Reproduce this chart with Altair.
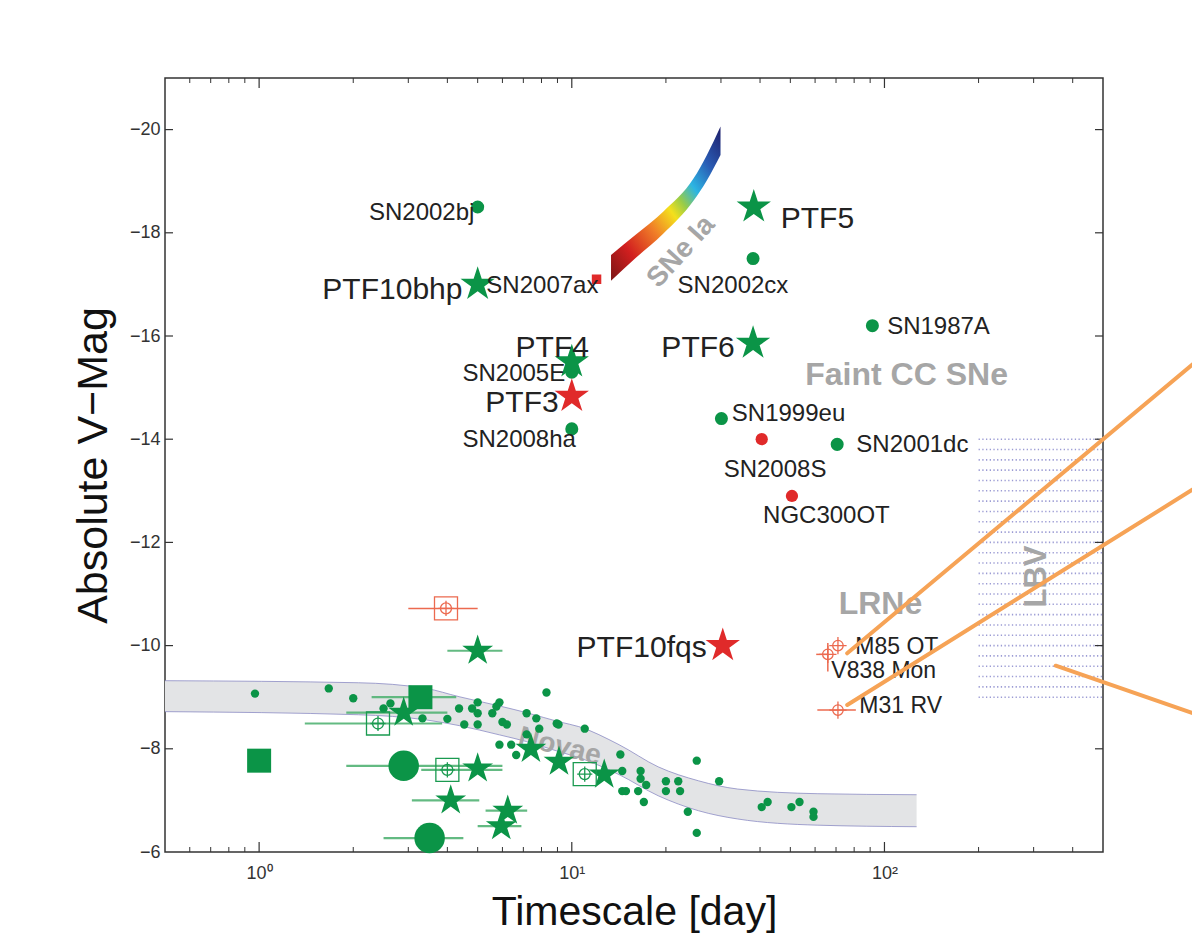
import altair as alt
import pandas as pd

FONT = "Liberation Sans"
GREEN = "#0b9447"
GREEN_ERR = "#52b274"
RED = "#e02a2a"
SALMON = "#ec6a4f"
GRAY_TXT = "#a6a6a6"
DARK = "#222222"
ORANGE = "#f6a356"

W, H = 938, 774

# ---------------- axis ticks ----------------
x_major_ticks = [1, 10, 100]
x_minor_ticks = [0.6, 0.7, 0.8, 0.9, 2, 3, 4, 5, 6, 7, 8, 9,
                 20, 30, 40, 50, 60, 70, 80, 90, 200, 300, 400]
y_major_ticks = [-20, -18, -16, -14, -12, -10, -8]
y_label_values = [-20, -18, -16, -14, -12, -10, -8, -6]

# ---------------- labelled events ----------------
ev_name = ["SN2002bj", "PTF10bhp", "SN2007ax", "PTF5", "SN2002cx", "SN1987A",
           "PTF6", "SN2005E", "PTF4", "PTF3", "SN2008ha", "SN1999eu", "SN2008S",
           "SN2001dc", "NGC300OT", "PTF10fqs"]
ev_x = [5.0, 5.0, 12.0, 38.2, 38.0, 91.5, 38.0, 10.0, 10.0, 10.0, 10.0, 30.1,
        40.5, 70.6, 50.6, 30.4]
ev_y = [-18.5, -17.0, -17.1, -18.5, -17.5, -16.2, -15.86, -15.3, -15.5, -14.83,
        -14.2, -14.4, -14.0, -13.9, -12.9, -10.0]
ev_kind = ["circle_green", "star_green", "square_red", "star_green", "circle_green",
           "circle_green", "star_green", "circle_green", "star_green", "star_red",
           "circle_green", "circle_green", "circle_red", "circle_green", "circle_red",
           "star_red"]

# ---------------- novae ----------------
nova_dot_x = [0.97, 1.67, 2.0, 2.63, 2.5, 3.33, 4.0, 4.36, 4.53, 4.8, 5.0, 5.0, 5.0,
              5.57, 5.87, 5.74, 6.0, 6.2, 7.17, 7.7, 8.3, 5.87, 6.4, 6.64, 7.17,
              8.95, 7.87, 9.07, 11.0, 14.3, 14.5, 16.6, 16.6, 17.3, 14.5, 14.9,
              16.3, 17.0, 20.0, 21.9, 20.0, 22.2, 23.5, 25.1, 25.1, 29.6, 40.5,
              42.3, 50.4, 53.5, 59.3, 59.3]
nova_dot_y = [-9.07, -9.17, -8.98, -8.88, -8.78, -8.59, -8.58, -8.78, -8.47, -8.78,
              -8.9, -8.47, -8.69, -8.69, -8.9, -8.82, -8.52, -8.47, -8.69, -8.59,
              -9.09, -8.08, -8.08, -7.88, -8.28, -8.49, -8.39, -8.47, -8.39, -7.89,
              -7.57, -7.57, -7.42, -7.3, -7.18, -7.18, -7.18, -6.97, -7.37, -7.37,
              -7.18, -7.18, -6.78, -7.77, -6.37, -7.37, -6.87, -6.97, -6.87, -6.97,
              -6.78, -6.68]
nova_star_x = [5.0, 2.9, 5.0, 4.1, 6.24, 5.95, 7.4, 9.1, 12.7]
nova_star_y = [-9.9, -8.7, -7.62, -7.0, -6.8, -6.5, -8.0, -7.75, -7.5]
nova_bigcircle_x = [2.9, 3.51]
nova_bigcircle_y = [-7.67, -6.27]
nova_bigsquare_x = [1.0, 3.28]
nova_bigsquare_y = [-7.77, -9.0]
nova_opensq_x = [2.4, 4.0, 11.0]
nova_opensq_y = [-8.49, -7.59, -7.51]
red_opensq_x = [3.96]
red_opensq_y = [-10.72]
lrn_x = [71.0, 65.9, 71.0]
lrn_y = [-10.0, -9.83, -8.75]

# error bars (horizontal)
gerr_lo = [2.29, 1.9, 2.5, 1.4, 3.3, 4.0, 1.9, 3.08, 5.3, 5.0]
gerr_hi = [4.27, 6.0, 4.5, 3.85, 6.0, 6.0, 4.0, 5.06, 7.2, 6.9]
gerr_y = [-9.0, -7.67, -6.27, -8.49, -7.59, -9.9, -8.7, -7.0, -6.8, -6.5]
rerr_lo = [3.0, 61.0, 60.5]
rerr_hi = [5.0, 81.0, 66.0]
rerr_y = [-10.72, -8.75, -9.83]
rverr_x = [65.9]
rverr_lo = [-10.05]
rverr_hi = [-9.5]

# ---------------- nova (MMRD) band ----------------
band_x = [0.5, 2.08, 3.42, 4.36, 5.87, 7.17, 9.15, 10.53, 14.16, 18.90, 25.42,
          33.93, 60.9, 126.7]
band_top = [-9.32, -9.28, -9.17, -9.01, -8.83, -8.70, -8.52, -8.43, -8.08, -7.65,
            -7.38, -7.22, -7.13, -7.11]
band_bot = [-8.72, -8.66, -8.56, -8.45, -8.27, -8.14, -7.94, -7.83, -7.50, -7.09,
            -6.80, -6.64, -6.52, -6.49]

# ---------------- SNe Ia width-luminosity band ----------------
ia_x = [13.35, 16.0, 19.6, 24.5, 27.0, 29.9]
ia_bright = [-17.57, -17.96, -18.41, -19.05, -19.50, -20.06]
ia_faint = [-17.07, -17.51, -17.98, -18.62, -19.01, -19.51]

# ---------------- LBV region ----------------
lbv_x = [200, 500]
lbv_rows = [-14.0, -13.8, -13.6, -13.4, -13.2, -13.0, -12.8, -12.6, -12.4, -12.2,
            -12.0, -11.8, -11.6, -11.4, -11.2, -11.0, -10.8, -10.6, -10.4, -10.2,
            -10.0, -9.8, -9.6, -9.4, -9.2, -9.0]

# ---------------- labels ----------------
left_lab = ["SN2007ax", "PTF5", "SN2002cx", "SN1987A", "PTF4", "SN2005E", "PTF3",
            "SN2008ha", "SN1999eu", "SN2008S", "SN2001dc", "NGC300OT", "M85 OT",
            "V838 Mon", "M31 RV"]
left_x = [5.33, 46.6, 21.8, 102, 6.61, 4.47, 5.29, 4.47, 32.5, 30.6, 81.3, 40.9,
          80.7, 67.6, 83.1]
left_y = [-16.97, -18.27, -16.97, -16.17, -15.77, -15.26, -14.70, -13.98, -14.49,
          -13.40, -13.88, -12.52, -9.97, -9.51, -8.82]
left_fs = [24, 30, 24, 24, 30, 24, 30, 24, 24, 24, 24, 24, 23, 23, 23]
right_lab = ["SN2002bj", "PTF10bhp", "PTF6", "PTF10fqs"]
right_x = [4.88, 4.47, 33.2, 27.0]
right_y = [-18.39, -16.89, -15.77, -9.96]
right_fs = [24, 30, 30, 30]
gray_lab = ["SNe Ia", "Faint CC SNe", "LRNe", "LBV", "Novae"]
gray_x = [22.4, 117.7, 97.1, 308, 9.15]
gray_y = [-17.63, -15.24, -10.8, -11.34, -8.04]
gray_fs = [28, 32, 32, 31, 28]
gray_ang = [312, 0, 0, 270, 14]

# orange call-out lines
ol_x1 = [76, 76, 353]
ol_y1 = [-9.85, -8.85, -9.61]
ol_x2 = [1045, 1045, 1045]
ol_y2 = [-15.62, -13.15, -8.62]

# ---------------- styles ----------------
STAR = ("M0,-1L0.2245,-0.309L0.9511,-0.309L0.3633,0.118L0.5878,0.809L0,0.382"
        "L-0.5878,0.809L-0.3633,0.118L-0.9511,-0.309L-0.2245,-0.309Z")
CROSS = "M-1,0L1,0M0,-1L0,1"
kind_style = {
    "circle_green": ("circle", 170, GREEN),
    "circle_red": ("circle", 150, RED),
    "square_red": ("square", 90, RED),
    "star_green": (STAR, 1300, GREEN),
    "star_red": (STAR, 1300, RED),
}

xs = alt.Scale(type="log", domain=[0.5, 500], nice=False)
ys = alt.Scale(type="linear", domain=[-21, -6], reverse=True, nice=False, zero=False)

x_axis = alt.Axis(
    values=x_major_ticks,
    labelExpr="datum.value == 1 ? '10\u2070' : (datum.value == 10 ? '10\u00b9' : '10\u00b2')",
    ticks=False, domain=False, grid=False, labelFlush=False,
    labelFont=FONT, labelFontSize=18, labelColor="#333", labelPadding=12,
    title="Timescale [day]", titleFont=FONT, titleFontSize=41,
    titleFontWeight="normal", titleColor="#111", titleY=60, titleBaseline="middle",
)
y_axis = alt.Axis(
    values=y_label_values, ticks=False, domain=False, grid=False, labelFlush=False,
    labelFont=FONT, labelFontSize=18, labelColor="#333", labelPadding=5,
    title="Absolute V\u2212Mag", titleFont=FONT, titleFontSize=43,
    titleFontWeight="normal", titleColor="#111", titleX=-72, titleY=H / 2,
    titleAngle=270, titleBaseline="middle", titleAlign="center",
)


def X(f):
    return alt.X(f, type="quantitative", scale=xs, axis=x_axis)


def Y(f):
    return alt.Y(f, type="quantitative", scale=ys, axis=y_axis)


# ---------------- data frames ----------------
band_df = pd.DataFrame({"x": band_x, "top": band_top, "bot": band_bot})
ia_df = pd.DataFrame({"x": ia_x, "b": ia_bright, "f": ia_faint})
lbv_df = pd.DataFrame({"m": lbv_rows, "x1": lbv_x[0], "x2": lbv_x[1]})

filled_rows = []
for n, x, y, k in zip(ev_name, ev_x, ev_y, ev_kind):
    s, sz, c = kind_style[k]
    filled_rows.append(dict(x=x, y=y, shape=s, size=sz, color=c))
for x, y in zip(nova_dot_x, nova_dot_y):
    filled_rows.append(dict(x=x, y=y, shape="circle", size=70, color=GREEN))
for x, y in zip(nova_star_x, nova_star_y):
    filled_rows.append(dict(x=x, y=y, shape=STAR, size=1050, color=GREEN))
for x, y in zip(nova_bigcircle_x, nova_bigcircle_y):
    filled_rows.append(dict(x=x, y=y, shape="circle", size=930, color=GREEN))
for x, y in zip(nova_bigsquare_x, nova_bigsquare_y):
    filled_rows.append(dict(x=x, y=y, shape="square", size=576, color=GREEN))
filled_df = pd.DataFrame(filled_rows)

open_rows = []
for xl, yl, col in [(nova_opensq_x, nova_opensq_y, "#1a9a50"),
                    (red_opensq_x, red_opensq_y, SALMON)]:
    for x, y in zip(xl, yl):
        open_rows.append(dict(x=x, y=y, shape="square", size=529, color=col))
        open_rows.append(dict(x=x, y=y, shape="circle", size=120, color=col))
        open_rows.append(dict(x=x, y=y, shape=CROSS, size=230, color=col))
for x, y in zip(lrn_x, lrn_y):
    open_rows.append(dict(x=x, y=y, shape="circle", size=110, color=SALMON))
    open_rows.append(dict(x=x, y=y, shape=CROSS, size=300, color=SALMON))
open_df = pd.DataFrame(open_rows)

gerr_df = pd.DataFrame({"lo": gerr_lo, "hi": gerr_hi, "y": gerr_y})
rerr_df = pd.DataFrame({"lo": rerr_lo, "hi": rerr_hi, "y": rerr_y})
rverr_df = pd.DataFrame({"x": rverr_x, "lo": rverr_lo, "hi": rverr_hi})

left_df = pd.DataFrame({"t": left_lab, "x": left_x, "y": left_y, "fs": left_fs})
right_df = pd.DataFrame({"t": right_lab, "x": right_x, "y": right_y, "fs": right_fs})
gray_df = pd.DataFrame({"t": gray_lab, "x": gray_x, "y": gray_y, "fs": gray_fs,
                        "a": gray_ang})
ol_df = pd.DataFrame({"x1": ol_x1, "y1": ol_y1, "x2": ol_x2, "y2": ol_y2})

xmaj_df = pd.DataFrame({"x": x_major_ticks})
xmin_df = pd.DataFrame({"x": x_minor_ticks})
ymaj_df = pd.DataFrame({"y": y_major_ticks})

# ---------------- layers ----------------
band = alt.Chart(band_df).mark_area(color="#e3e4e6", interpolate="monotone").encode(
    x=X("x"), y=Y("top"), y2="bot")
band_top_l = alt.Chart(band_df).mark_line(color="#8c8cc4", strokeWidth=1,
                                          opacity=0.8, interpolate="monotone").encode(
    x=X("x"), y=Y("top"))
band_bot_l = alt.Chart(band_df).mark_line(color="#8c8cc4", strokeWidth=1,
                                          opacity=0.8, interpolate="monotone").encode(
    x=X("x"), y=Y("bot"))

lbv = alt.Chart(lbv_df).mark_rule(color="#9c9cd4", strokeWidth=1.6,
                                  strokeDash=[1.3, 2.4]).encode(
    x=X("x1"), x2="x2", y=Y("m"))

gradient = {
    "gradient": "linear", "x1": 0, "y1": 1, "x2": 1, "y2": 0,
    "stops": [
        {"offset": 0.0, "color": "#7a1515"},
        {"offset": 0.18, "color": "#d21f1f"},
        {"offset": 0.36, "color": "#f07f28"},
        {"offset": 0.5, "color": "#f4e01c"},
        {"offset": 0.58, "color": "#98cc48"},
        {"offset": 0.68, "color": "#2cb5e3"},
        {"offset": 0.82, "color": "#2a5cb4"},
        {"offset": 1.0, "color": "#1e1e6a"},
    ],
}
ia = alt.Chart(ia_df).mark_area(fill=gradient, interpolate="monotone").encode(
    x=X("x"), y=Y("b"), y2="f")

gray_txt = alt.Chart(gray_df).mark_text(font=FONT, fontWeight="bold", color=GRAY_TXT,
                                        align="center", baseline="middle").encode(
    x=X("x"), y=Y("y"), text="t:N",
    size=alt.Size("fs:Q", scale=None), angle=alt.Angle("a:Q", scale=None))

gerr = alt.Chart(gerr_df).mark_rule(color=GREEN_ERR, strokeWidth=2.2, opacity=0.9).encode(
    x=X("lo"), x2="hi", y=Y("y"))
rerr = alt.Chart(rerr_df).mark_rule(color=SALMON, strokeWidth=1.5).encode(
    x=X("lo"), x2="hi", y=Y("y"))
rverr = alt.Chart(rverr_df).mark_rule(color=SALMON, strokeWidth=1.5).encode(
    x=X("x"), y=Y("lo"), y2="hi")

filled = alt.Chart(filled_df).mark_point(filled=True, opacity=1, strokeWidth=0).encode(
    x=X("x"), y=Y("y"),
    shape=alt.Shape("shape:N", scale=None),
    size=alt.Size("size:Q", scale=None),
    color=alt.Color("color:N", scale=None))
opened = alt.Chart(open_df).mark_point(filled=False, opacity=1, strokeWidth=1.3).encode(
    x=X("x"), y=Y("y"),
    shape=alt.Shape("shape:N", scale=None),
    size=alt.Size("size:Q", scale=None),
    color=alt.Color("color:N", scale=None))

ltxt = alt.Chart(left_df).mark_text(font=FONT, color=DARK, align="left",
                                    baseline="middle").encode(
    x=X("x"), y=Y("y"), text="t:N", size=alt.Size("fs:Q", scale=None))
rtxt = alt.Chart(right_df).mark_text(font=FONT, color=DARK, align="right",
                                     baseline="middle").encode(
    x=X("x"), y=Y("y"), text="t:N", size=alt.Size("fs:Q", scale=None))

TICK = "#333333"
xmaj_b = alt.Chart(xmaj_df).mark_rule(color=TICK, strokeWidth=1.2).encode(
    x=X("x"), y=alt.value(H), y2=alt.value(H - 10))
xmaj_t = alt.Chart(xmaj_df).mark_rule(color=TICK, strokeWidth=1.2).encode(
    x=X("x"), y=alt.value(0), y2=alt.value(10))
xmin_b = alt.Chart(xmin_df).mark_rule(color=TICK, strokeWidth=1).encode(
    x=X("x"), y=alt.value(H), y2=alt.value(H - 5))
xmin_t = alt.Chart(xmin_df).mark_rule(color=TICK, strokeWidth=1).encode(
    x=X("x"), y=alt.value(0), y2=alt.value(5))
ymaj_l = alt.Chart(ymaj_df).mark_rule(color=TICK, strokeWidth=1.2).encode(
    y=Y("y"), x=alt.value(0), x2=alt.value(8))
ymaj_r = alt.Chart(ymaj_df).mark_rule(color=TICK, strokeWidth=1.2).encode(
    y=Y("y"), x=alt.value(W), x2=alt.value(W - 8))

orange = alt.Chart(ol_df).mark_rule(color=ORANGE, strokeWidth=4, strokeCap="round").encode(
    x=X("x1"), y=Y("y1"), x2="x2", y2="y2")

chart = alt.layer(
    band, band_top_l, band_bot_l, lbv, ia, gray_txt, gerr, rerr, rverr,
    filled, opened, ltxt, rtxt,
    xmaj_b, xmaj_t, xmin_b, xmin_t, ymaj_l, ymaj_r, orange,
).properties(
    width=W, height=H,
    padding={"left": 157, "top": 70, "right": 89, "bottom": 86},
    autosize=alt.AutoSizeParams(type="none"),
    background="white",
).configure_view(stroke="#333333", strokeWidth=1.5)

chart.save("out.html", embed_options={"renderer": "svg", "actions": False})
